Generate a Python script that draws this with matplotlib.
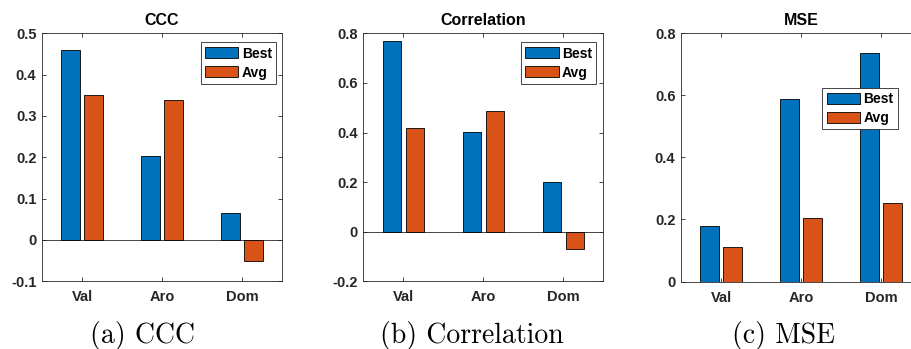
import numpy as np
import matplotlib
matplotlib.use("Agg")
import matplotlib.pyplot as plt

# Metric values per emotion dimension
categories = ["Val", "Aro", "Dom"]
ccc_best = [0.459, 0.204, 0.065]
ccc_avg = [0.351, 0.338, -0.052]
corr_best = [0.770, 0.401, 0.199]
corr_avg = [0.418, 0.487, -0.070]
mse_best = [0.179, 0.589, 0.735]
mse_avg = [0.111, 0.204, 0.254]

ccc_ticks = [-0.1, 0, 0.1, 0.2, 0.3, 0.4, 0.5]
ccc_ticklabels = ["-0.1", "0", "0.1", "0.2", "0.3", "0.4", "0.5"]
corr_ticks = [-0.2, 0, 0.2, 0.4, 0.6, 0.8]
corr_ticklabels = ["-0.2", "0", "0.2", "0.4", "0.6", "0.8"]
mse_ticks = [0, 0.2, 0.4, 0.6, 0.8]
mse_ticklabels = ["0", "0.2", "0.4", "0.6", "0.8"]

titles = ["CCC", "Correlation", "MSE"]
captions = ["(a) CCC", "(b) Correlation", "(c) MSE"]

BLUE = "#0072BD"
ORANGE = "#D95319"
AX_COLOR = "#262626"
FONT = ["Liberation Sans", "DejaVu Sans"]

W, H = 911, 349
fig = plt.figure(figsize=(W / 100, H / 100), dpi=100)


def px_axes(left, top, right, bottom):
    return fig.add_axes([left / W, 1 - bottom / H, (right - left) / W, (bottom - top) / H])


panels = [
    dict(box=(42, 33.3, 282, 281.3), best=ccc_best, avg=ccc_avg, ylim=(-0.1, 0.5),
         ticks=ccc_ticks, labels=ccc_ticklabels, leg=(0.975, 0.963), cap_x=143),
    dict(box=(363.3, 33.3, 603.3, 281.3), best=corr_best, avg=corr_avg, ylim=(-0.2, 0.8),
         ticks=corr_ticks, labels=corr_ticklabels, leg=(0.971, 0.963), cap_x=471.5),
    dict(box=(681, 33.3, 921, 281.5), best=mse_best, avg=mse_avg, ylim=(0, 0.8),
         ticks=mse_ticks, labels=mse_ticklabels, leg=(0.903, 0.779), cap_x=784),
]

x = np.arange(1, len(categories) + 1)
group_w = 2 / 3.5
offset = group_w / 4
bar_w = 0.8 * group_w / 2

for p, title, caption in zip(panels, titles, captions):
    ax = px_axes(*p["box"])
    ax.bar(x - offset, p["best"], bar_w, color=BLUE, edgecolor="black",
           linewidth=0.6, label="Best", zorder=2)
    ax.bar(x + offset, p["avg"], bar_w, color=ORANGE, edgecolor="black",
           linewidth=0.6, label="Avg", zorder=2)
    ax.axhline(0, color=AX_COLOR, linewidth=0.6, zorder=1)
    ax.set_xlim(0.5, 3.5)
    ax.set_ylim(*p["ylim"])
    ax.set_xticks(x)
    ax.set_xticklabels(categories)
    ax.set_yticks(p["ticks"])
    ax.set_yticklabels(p["labels"])
    ax.tick_params(direction="in", length=3, width=0.6, color=AX_COLOR,
                   labelcolor=AX_COLOR, top=True, right=True, labelsize=10.5)
    ax.tick_params(axis="x", pad=6.5)
    ax.tick_params(axis="y", pad=4)
    for lab in ax.get_xticklabels() + ax.get_yticklabels():
        lab.set_fontweight("bold")
        lab.set_family(FONT)
    for s in ax.spines.values():
        s.set_color(AX_COLOR)
        s.set_linewidth(0.6)
    ax.set_title(title, fontsize=11.5, fontweight="bold", family=FONT, pad=6)
    leg = ax.legend(loc="upper right", bbox_to_anchor=p["leg"], borderaxespad=0,
                    fancybox=False, framealpha=1, edgecolor=AX_COLOR,
                    prop=dict(family=FONT, weight="bold", size=10),
                    handlelength=2.4, handleheight=0.85, handletextpad=0.25,
                    labelspacing=0.35, borderpad=0.3)
    leg.get_frame().set_linewidth(0.6)
    leg.set_zorder(5)
    fig.text(p["cap_x"] / W, 1 - 343 / H, caption, family=["cmr10", "DejaVu Serif"],
             fontsize=20, ha="center", va="baseline")

fig.savefig("out.png", dpi=100)
